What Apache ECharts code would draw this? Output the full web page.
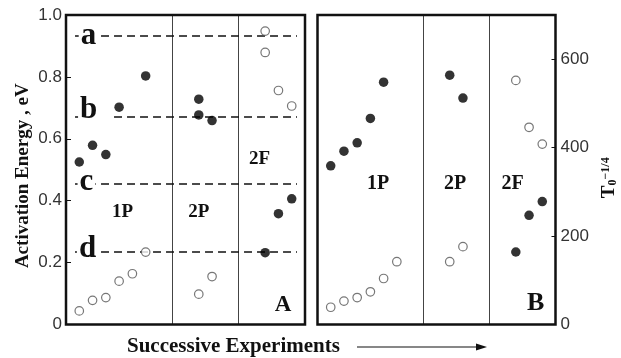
<!DOCTYPE html>
<html>
<head>
<meta charset="utf-8">
<script src="https://cdn.jsdelivr.net/npm/echarts@6/dist/echarts.min.js"></script>
<style>
  html, body { margin: 0; padding: 0; background: #fff; }
  #chart { width: 621px; height: 358px; }
</style>
</head>
<body>
<div id="chart"></div>
<script>
// Experiment slots along the horizontal axis: 1P = 1..6, 2P = 10..11, 2F = 15..17
const groupLabels = ['1P', '2P', '2F'];
const groupBoundaries = [8, 13];

// Panel A: activation energy (eV)
const eaFilledX = [1, 2, 3, 4, 6, 10, 10, 11, 15, 16, 17];
const eaFilled  = [0.525, 0.579, 0.549, 0.702, 0.803, 0.728, 0.677, 0.659, 0.232, 0.358, 0.406];
const eaOpenX   = [1, 2, 3, 4, 5, 6, 10, 11, 15, 15, 16, 17];
const eaOpen    = [0.044, 0.078, 0.087, 0.140, 0.164, 0.234, 0.098, 0.155, 0.948, 0.879, 0.756, 0.706];

// Reference activation-energy levels a-d (eV)
const levelNames  = ['a', 'b', 'c', 'd'];
const levelValues = [0.933, 0.670, 0.454, 0.234];

// Panel B: T0^(-1/4)
const tFilledX = [1, 2, 3, 4, 5, 10, 11, 15, 16, 17];
const tFilled  = [359, 392, 411, 466, 548, 564, 512, 164, 247, 278];
const tOpenX   = [1, 2, 3, 4, 5, 6, 10, 11, 15, 16, 17];
const tOpen    = [39, 53, 61, 74, 104, 142, 142, 176, 552, 446, 408];

const SERIF = "'Liberation Serif', 'Times New Roman', serif";
const SANS = "'Liberation Sans', Arial, sans-serif";
const INK = '#111';

const zip = (xs, ys) => xs.map((x, i) => [x, ys[i]]);

const chart = echarts.init(document.getElementById('chart'), null, { renderer: 'canvas' });

const filledStyle = { color: '#000' };
const openStyle = { color: '#fff', borderColor: '#555', borderWidth: 1.2 };

// vertical separators between experiment groups
function separators() {
  return {
    silent: true,
    z: 1,
    symbol: 'none',
    label: { show: false },
    lineStyle: { color: '#444', width: 1, type: 'solid' },
    data: groupBoundaries.map(b => ({ xAxis: b }))
  };
}

const option = {
  animation: false,
  backgroundColor: '#fff',
  grid: [
    { left: 66, top: 15, width: 239, height: 309.5, show: true, borderColor: INK, borderWidth: 2.5, z: 20 },
    { left: 317.5, top: 15, width: 238, height: 309.5, show: true, borderColor: INK, borderWidth: 2.5, z: 20 }
  ],
  xAxis: [
    { gridIndex: 0, type: 'value', min: 0, max: 18, show: false },
    { gridIndex: 1, type: 'value', min: 0, max: 18, show: false }
  ],
  yAxis: [
    {
      gridIndex: 0, type: 'value', min: 0, max: 1, interval: 0.2,
      axisLine: { show: false, onZero: false },
      axisTick: { show: true, inside: true, length: 5, lineStyle: { color: INK, width: 1 } },
      splitLine: { show: false },
      axisLabel: {
        margin: 4, fontFamily: SANS, fontSize: 17, color: '#333',
        formatter: v => (v === 0 ? '0' : v.toFixed(1))
      },
      name: 'Activation Energy , eV',
      nameLocation: 'middle', nameRotate: 90, nameGap: 33,
      nameTextStyle: { fontFamily: SERIF, fontWeight: 'bold', fontSize: 19, color: INK, padding: [0, 12, 0, 0] }
    },
    {
      gridIndex: 1, type: 'value', position: 'right', min: 0, max: 700, interval: 200,
      axisLine: { show: false, onZero: false },
      axisTick: { show: true, inside: true, length: 4, lineStyle: { color: INK, width: 1 } },
      splitLine: { show: false },
      axisLabel: { margin: 5, fontFamily: SANS, fontSize: 17, color: '#333', showMaxLabel: false },
      name: '{t|T}{s|0}{p|\u22121/4}',
      nameLocation: 'middle', nameRotate: 90, nameGap: 44,
      nameTextStyle: {
        padding: [0, 16, 0, 0],
        rich: {
          t: { fontFamily: SERIF, fontWeight: 'bold', fontSize: 19, color: INK },
          s: { fontFamily: SERIF, fontWeight: 'bold', fontSize: 12, color: INK, verticalAlign: 'bottom' },
          p: { fontFamily: SERIF, fontWeight: 'bold', fontSize: 12, color: INK, verticalAlign: 'top' }
        }
      }
    }
  ],
  series: [
    // Panel A: separators and dashed reference levels
    {
      type: 'line', xAxisIndex: 0, yAxisIndex: 0, data: [], z: 1,
      markLine: separators()
    },
    {
      type: 'line', xAxisIndex: 0, yAxisIndex: 0, data: [], z: 2,
      markLine: {
        silent: true, z: 2, symbol: 'none', label: { show: false },
        lineStyle: { color: INK, width: 1.6, type: [8, 5] },
        data: levelValues.map(v => [{ coord: [0.68, v] }, { coord: [17.4, v] }])
      }
    },
    {
      name: 'Ea filled', type: 'scatter', xAxisIndex: 0, yAxisIndex: 0, z: 12,
      symbol: 'circle', symbolSize: 9.5, itemStyle: filledStyle,
      data: zip(eaFilledX, eaFilled)
    },
    {
      name: 'Ea open', type: 'scatter', xAxisIndex: 0, yAxisIndex: 0, z: 12,
      symbol: 'circle', symbolSize: 8.5, itemStyle: openStyle,
      data: zip(eaOpenX, eaOpen)
    },
    // Panel B
    {
      type: 'line', xAxisIndex: 1, yAxisIndex: 1, data: [], z: 1,
      markLine: separators()
    },
    {
      name: 'T0 filled', type: 'scatter', xAxisIndex: 1, yAxisIndex: 1, z: 12,
      symbol: 'circle', symbolSize: 9.5, itemStyle: filledStyle,
      data: zip(tFilledX, tFilled)
    },
    {
      name: 'T0 open', type: 'scatter', xAxisIndex: 1, yAxisIndex: 1, z: 12,
      symbol: 'circle', symbolSize: 8.5, itemStyle: openStyle,
      data: zip(tOpenX, tOpen)
    }
  ]
};

chart.setOption(option);

// Annotations, placed in data coordinates and converted through each grid's scales
function textAt(gridIndex, x, y, text, size, extra) {
  const p = chart.convertToPixel({ gridIndex: gridIndex }, [x, y]);
  return {
    type: 'text', z: 10, silent: true,
    style: Object.assign({
      text: text, x: p[0], y: p[1], align: 'center', verticalAlign: 'middle',
      fontFamily: SERIF, fontWeight: 'bold', fontSize: size, fill: INK
    }, extra || {})
  };
}

// letter positions and the white gap each one cuts into its dashed line
const levelLabelPos = [[1.69, 0.933], [2.16, 0.693], [1.54, 0.462], [1.62, 0.244]];
const levelLabelPad = [[0, 2], [0, 14, 0, 2], [0, 2], [0, 2]];

const annotations = [
  ...levelNames.map((n, i) => textAt(0, levelLabelPos[i][0], levelLabelPos[i][1], n, 31,
      { backgroundColor: '#fff', padding: levelLabelPad[i] })),
  textAt(0, 4.25, 0.363, groupLabels[0], 19),
  textAt(0, 10.0, 0.363, groupLabels[1], 19),
  textAt(0, 14.57, 0.536, groupLabels[2], 19),
  textAt(0, 16.34, 0.063, 'A', 23),
  textAt(1, 4.58, 318, groupLabels[0], 20),
  textAt(1, 10.4, 318, groupLabels[1], 20),
  textAt(1, 14.75, 318, groupLabels[2], 20),
  textAt(1, 16.5, 49, 'B', 26),
  // horizontal axis caption with arrow
  {
    type: 'text', silent: true,
    style: {
      text: 'Successive Experiments', x: 127, y: 347, verticalAlign: 'middle',
      fontFamily: SERIF, fontWeight: 'bold', fontSize: 21, fill: INK
    }
  },
  { type: 'line', silent: true, shape: { x1: 357, y1: 347, x2: 480, y2: 347 }, style: { stroke: INK, lineWidth: 1.2 } },
  { type: 'polygon', silent: true, shape: { points: [[487, 347], [476, 343.5], [476, 350.5]] }, style: { fill: INK } }
];

chart.setOption({ graphic: annotations });
</script>
</body>
</html>
